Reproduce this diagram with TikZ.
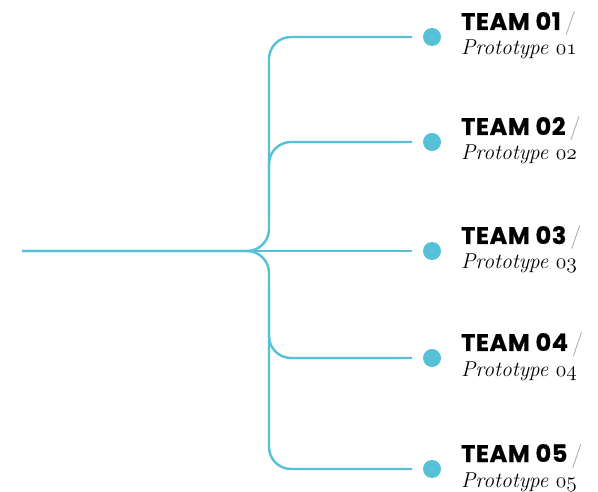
\RequirePackage{fix-cm}
\documentclass[tikz,border=0pt]{standalone}
\usepackage{fontspec}
\newfontfamily\teamfont{Poppins}[LetterSpace=2.5,BoldFeatures={FakeBold=0.6}]
\definecolor{teal}{RGB}{86,193,214}
\newcommand{\osnum}[1]{$\mathnormal{#1}$}

\begin{document}
\begin{tikzpicture}[x=1pt,y=-1pt,
		branch/.style={draw=teal,line width=2.4pt,rounded corners=22pt},
		dot/.style={circle,fill=teal,minimum size=18pt,inner sep=0pt},
		team/.style={anchor=base west,inner sep=0pt,font=\teamfont\bfseries\fontsize{24}{26}\selectfont},
		proto/.style={anchor=base west,inner sep=0pt,font=\itshape\fontsize{21.5}{26}\selectfont}]
	\useasboundingbox (0,0) rectangle (598,492);
	\coordinate (root) at (22,251);
	\coordinate (fork) at (269,251);
	\coordinate (forkup) at (269,215);
	\coordinate (forkdn) at (269,287);
	\foreach \n/\y in {1/37,2/142,3/251,4/358,5/469} {
		\coordinate (e\n) at (412,\y);
		\node[dot] (d\n) at (432,\y) {};
		\node[team] (t\n) at (461,\y-7) {TEAM 0\n\,{\normalfont\color{gray!75}/}};
		\node[proto] (p\n) at (461,\y+18) {Prototype \osnum{0\n}};
	}
	\draw[branch] (e1) -| (fork) -- (root);
	\draw[branch] (e5) -| (fork) -- (root);
	\draw[branch] (e2) -| (forkup);
	\draw[branch] (e4) -| (forkdn);
	\draw[branch] (e3) -- (root);
\end{tikzpicture}
\end{document}
